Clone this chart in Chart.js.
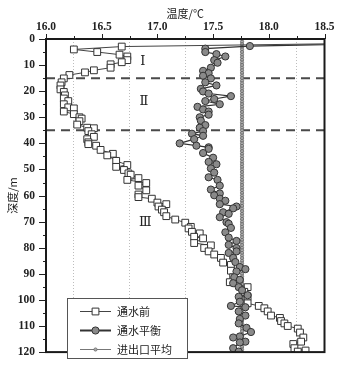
<!DOCTYPE html>
<html>
<head>
<meta charset="utf-8">
<script src="https://cdn.jsdelivr.net/npm/chart.js@4.4.1/dist/chart.umd.min.js"></script>
<style>
html, body { margin: 0; padding: 0; background: #fff; }
#wrap { position: relative; width: 341px; height: 370px; }
</style>
</head>
<body>
<div id="wrap"><canvas id="tempChart" width="341" height="370"></canvas></div>
<script>
// --- dados ---
// 通水前 (quadrados)
const beforeDepth = [1.0, 2.9, 4.0, 5.0, 6.0, 6.7, 8.1, 8.9, 9.7, 11.0, 12.0, 12.8, 13.8, 15.1, 16.6, 17.8, 19.3, 20.3, 21.6, 22.8, 23.8, 25.0, 26.2, 26.6, 27.8, 28.8, 30.0, 30.5, 31.5, 32.8, 34.0, 34.2, 35.3, 36.5, 37.5, 38.4, 39.6, 40.3, 40.9, 42.5, 44.0, 44.6, 46.7, 48.3, 49.0, 50.2, 51.5, 52.0, 53.3, 54.0, 55.2, 56.2, 58.0, 59.6, 60.6, 61.2, 62.7, 63.3, 64.2, 65.4, 66.4, 67.9, 69.2, 70.4, 72.0, 72.6, 73.9, 74.5, 75.8, 76.4, 78.2, 79.1, 80.1, 81.4, 82.6, 83.9, 85.7, 86.6, 88.8, 91.3, 93.2, 95.1, 96.9, 98.8, 101.3, 102.3, 103.2, 104.4, 106.0, 106.9, 108.1, 109.0, 110.0, 111.0, 112.5, 114.4, 116.0, 116.9, 118.5, 119.4, 119.8];
const beforeTemp = [20.0, 16.68, 16.25, 16.46, 16.66, 16.73, 16.73, 16.68, 16.58, 16.58, 16.43, 16.35, 16.21, 16.16, 16.14, 16.13, 16.13, 16.16, 16.17, 16.16, 16.20, 16.16, 16.20, 16.25, 16.16, 16.25, 16.30, 16.32, 16.30, 16.28, 16.37, 16.43, 16.38, 16.41, 16.43, 16.37, 16.38, 16.38, 16.45, 16.49, 16.60, 16.55, 16.63, 16.73, 16.63, 16.70, 16.74, 16.76, 16.83, 16.73, 16.90, 16.83, 16.90, 16.83, 16.83, 16.95, 17.00, 17.08, 17.01, 17.04, 17.06, 17.08, 17.16, 17.25, 17.30, 17.28, 17.31, 17.38, 17.33, 17.41, 17.33, 17.48, 17.42, 17.46, 17.51, 17.57, 17.59, 17.66, 17.66, 17.68, 17.65, 17.81, 17.78, 17.81, 17.81, 17.91, 17.96, 17.99, 18.02, 18.10, 18.11, 18.14, 18.17, 18.26, 18.28, 18.31, 18.29, 18.22, 18.23, 18.33, 18.26];

// 通水平衡 (círculos)
const balanceDepth = [1.0, 2.7, 3.7, 5.0, 5.8, 6.7, 8.1, 9.1, 11.0, 12.2, 13.1, 14.1, 15.1, 16.6, 17.8, 19.1, 20.1, 20.9, 21.9, 23.0, 23.8, 25.0, 26.0, 27.0, 27.8, 29.0, 30.0, 31.3, 33.0, 34.0, 35.3, 36.3, 37.1, 38.4, 40.0, 40.9, 41.5, 42.1, 43.7, 45.5, 47.1, 48.0, 49.6, 51.2, 53.0, 54.0, 56.2, 57.7, 59.2, 59.9, 61.2, 62.0, 63.3, 64.2, 64.9, 66.4, 67.0, 68.3, 70.2, 70.8, 72.4, 74.1, 76.1, 77.4, 78.9, 80.1, 81.4, 82.0, 83.9, 85.5, 87.4, 88.2, 89.1, 91.3, 92.3, 93.6, 95.1, 96.3, 98.2, 98.8, 100.7, 102.3, 102.8, 104.4, 106.0, 107.3, 109.0, 110.7, 112.3, 114.0, 114.4, 116.0, 116.3, 118.5, 119.8];
const balanceTemp = [20.0, 17.83, 17.43, 17.43, 17.53, 17.61, 17.51, 17.54, 17.48, 17.41, 17.46, 17.41, 17.48, 17.43, 17.53, 17.39, 17.41, 17.46, 17.66, 17.51, 17.43, 17.56, 17.36, 17.41, 17.46, 17.46, 17.38, 17.39, 17.43, 17.38, 17.41, 17.31, 17.41, 17.33, 17.20, 17.35, 17.46, 17.46, 17.41, 17.50, 17.46, 17.53, 17.48, 17.51, 17.46, 17.54, 17.56, 17.48, 17.56, 17.51, 17.56, 17.61, 17.56, 17.71, 17.68, 17.59, 17.64, 17.56, 17.62, 17.64, 17.66, 17.61, 17.64, 17.71, 17.64, 17.71, 17.71, 17.64, 17.68, 17.70, 17.74, 17.79, 17.71, 17.69, 17.74, 17.68, 17.73, 17.76, 17.81, 17.73, 17.74, 17.66, 17.79, 17.73, 17.79, 17.74, 17.73, 17.80, 17.84, 17.74, 17.68, 17.79, 17.74, 17.68, 17.73];

// 进出口平均 (valor constante)
const avgTemp = 17.76;
const avgDepth = [0, 1, 2, 3, 4, 5, 6, 7, 8, 9, 10, 11, 12, 13, 14, 15, 16, 17, 18, 19, 20, 21, 22, 23, 24, 25, 26, 27, 28, 29, 30, 31, 32, 33, 34, 35, 36, 37, 38, 39, 40, 41, 42, 43, 44, 45, 46, 47, 48, 49, 50, 51, 52, 53, 54, 55, 56, 57, 58, 59, 60, 61, 62, 63, 64, 65, 66, 67, 68, 69, 70, 71, 72, 73, 74, 75, 76, 77, 78, 79, 80, 81, 82, 83, 84, 85, 86, 87, 88, 89, 90, 91, 92, 93, 94, 95, 96, 97, 98, 99, 100, 101, 102, 103, 104, 105, 106, 107, 108, 109, 110, 111, 112, 113, 114, 115, 116, 117, 118, 119, 120];

// limites das zonas e rótulos
const zoneBounds = [15, 35];
const zoneNames = ['Ⅰ', 'Ⅱ', 'Ⅲ'];
const zoneLabelDepth = [8.7, 23.8, 70.4];
const zoneLabelTemp = [16.87, 16.88, 16.89];

const seriesNames = ['通水前', '通水平衡', '进出口平均'];

const toPoints = (temps, depths) => depths.map((d, i) => ({ x: temps[i], y: d }));

const SERIF = "'Liberation Serif', 'DejaVu Serif', serif";
const CJK = "'Noto Sans CJK SC', sans-serif";

// --- plugin: marcas de escala maiores/menores + moldura ---
const tickMarks = {
  id: 'tickMarks',
  afterDraw(chart) {
    const { ctx, chartArea: a, scales: { x, y } } = chart;
    ctx.save();
    ctx.strokeStyle = '#222';
    ctx.lineWidth = 1;
    for (let v = 0; v <= 120; v += 5) {
      const py = Math.round(y.getPixelForValue(v)) + 0.5;
      const len = v % 10 === 0 ? 7 : 3;
      ctx.beginPath(); ctx.moveTo(a.left - len, py); ctx.lineTo(a.left, py); ctx.stroke();
    }
    for (let i = 0; i <= 10; i++) {
      const v = 16 + i * 0.25;
      const px = Math.round(x.getPixelForValue(v)) + 0.5;
      const len = i % 2 === 0 ? 5 : 3;
      ctx.beginPath(); ctx.moveTo(px, a.top - len); ctx.lineTo(px, a.top); ctx.stroke();
    }
    ctx.lineWidth = 2;
    ctx.strokeStyle = '#1a1a1a';
    ctx.strokeRect(a.left, a.top, a.right - a.left, a.bottom - a.top);
    ctx.restore();
  }
};

// --- plugin: rótulos das zonas (Ⅰ Ⅱ Ⅲ) ---
const zoneLabels = {
  id: 'zoneLabels',
  afterDatasetsDraw(chart) {
    const { ctx, scales: { x, y } } = chart;
    ctx.save();
    ctx.fillStyle = '#222';
    ctx.font = '13px ' + SERIF;
    ctx.textAlign = 'center';
    ctx.textBaseline = 'middle';
    zoneNames.forEach((n, i) => {
      ctx.fillText(n, x.getPixelForValue(zoneLabelTemp[i]), y.getPixelForValue(zoneLabelDepth[i]));
    });
    ctx.restore();
  }
};

// --- plugin: legenda dentro da área do gráfico ---
const boxLegend = {
  id: 'boxLegend',
  afterDraw(chart) {
    const { ctx } = chart;
    const bx = 67.5, by = 298.5, bw = 120, bh = 60;
    ctx.save();
    ctx.fillStyle = '#fff';
    ctx.fillRect(bx, by, bw, bh);
    ctx.strokeStyle = '#555';
    ctx.lineWidth = 1;
    ctx.strokeRect(bx, by, bw, bh);
    const rows = [311.5, 330.5, 349.5];
    const order = [1, 2, 0]; // dataset de cada linha
    rows.forEach((ry, i) => {
      const ds = chart.data.datasets[order[i]];
      ctx.strokeStyle = ds.borderColor;
      ctx.lineWidth = ds.legendLine;
      ctx.beginPath(); ctx.moveTo(80, ry); ctx.lineTo(111, ry); ctx.stroke();
      ctx.fillStyle = ds.pointBackgroundColor;
      ctx.strokeStyle = ds.pointBorderColor;
      ctx.lineWidth = ds.pointBorderWidth;
      Chart.helpers.drawPoint(ctx, { pointStyle: ds.pointStyle, radius: ds.pointRadius, borderWidth: ds.pointBorderWidth }, 95.5, ry);
      ctx.fillStyle = '#222';
      ctx.font = '11px ' + CJK;
      ctx.textAlign = 'left';
      ctx.textBaseline = 'middle';
      ctx.fillText(ds.label, 117, ry);
    });
    ctx.restore();
  }
};

const boundaryDatasets = zoneBounds.map(b => ({
  label: 'zona ' + b,
  data: [{ x: 16, y: b }, { x: 18.5, y: b }],
  showLine: true,
  borderColor: '#4a4a4a',
  borderWidth: 2,
  borderDash: [9, 6],
  pointRadius: 0,
  order: 5
}));

new Chart(document.getElementById('tempChart'), {
  type: 'scatter',
  data: {
    datasets: [
      {
        label: seriesNames[2],
        data: toPoints(avgDepth.map(() => avgTemp), avgDepth),
        showLine: true,
        borderColor: '#777',
        borderWidth: 1,
        pointStyle: 'circle',
        pointRadius: 1.6,
        pointBackgroundColor: '#aaa',
        pointBorderColor: '#666',
        pointBorderWidth: 0.8,
        legendLine: 1,
        order: 3
      },
      {
        label: seriesNames[0],
        data: toPoints(beforeTemp, beforeDepth),
        showLine: true,
        borderColor: '#444',
        borderWidth: 1,
        pointStyle: 'rect',
        pointRadius: 4.8,
        pointBackgroundColor: '#fff',
        pointBorderColor: '#333',
        pointBorderWidth: 1,
        legendLine: 1,
        order: 2
      },
      {
        label: seriesNames[1],
        data: toPoints(balanceTemp, balanceDepth),
        showLine: true,
        borderColor: '#333',
        borderWidth: 1.2,
        pointStyle: 'circle',
        pointRadius: 3.6,
        pointBackgroundColor: '#8a8a8a',
        pointBorderColor: '#333',
        pointBorderWidth: 1,
        legendLine: 2,
        order: 1
      },
      ...boundaryDatasets
    ]
  },
  options: {
    responsive: false,
    animation: false,
    devicePixelRatio: 1,
    layout: { padding: { left: 0, right: 16.5, top: 0, bottom: 9.5 } },
    plugins: {
      legend: { display: false },
      tooltip: { enabled: false }
    },
    scales: {
      x: {
        type: 'linear',
        position: 'top',
        min: 16,
        max: 18.5,
        afterFit: s => { s.height = 39; },
        border: { display: false, dash: [1, 2] },
        grid: {
          drawTicks: false,
          color: c => (Math.round(c.tick.value * 4) % 2 === 1 ? '#bdbdbd' : 'rgba(0,0,0,0)'),
          borderDash: [1, 2],
          lineWidth: 1
        },
        ticks: {
          stepSize: 0.25,
          autoSkip: false,
          maxRotation: 0,
          padding: 5,
          color: '#222',
          font: { family: SERIF, size: 11.5, weight: 'bold' },
          callback: v => (Math.round(v * 4) % 2 === 0 ? v.toFixed(1) : '')
        },
        title: {
          display: true,
          text: '温度/℃',
          color: '#222',
          padding: { top: 7, bottom: 0 },
          font: { family: CJK, size: 11 }
        }
      },
      y: {
        type: 'linear',
        reverse: true,
        min: 0,
        max: 120,
        afterFit: s => { s.width = 46; },
        border: { display: false },
        grid: { drawTicks: false, color: 'rgba(0,0,0,0)' },
        ticks: {
          stepSize: 5,
          autoSkip: false,
          padding: 11,
          color: '#222',
          font: { family: SERIF, size: 11.5, weight: 'bold' },
          callback: v => (v % 10 === 0 ? String(v) : '')
        },
        title: {
          display: true,
          text: '深度/m',
          color: '#222',
          padding: { top: 6, bottom: 0 },
          font: { family: CJK, size: 11 }
        }
      }
    }
  },
  plugins: [tickMarks, zoneLabels, boxLegend]
});
</script>
</body>
</html>
